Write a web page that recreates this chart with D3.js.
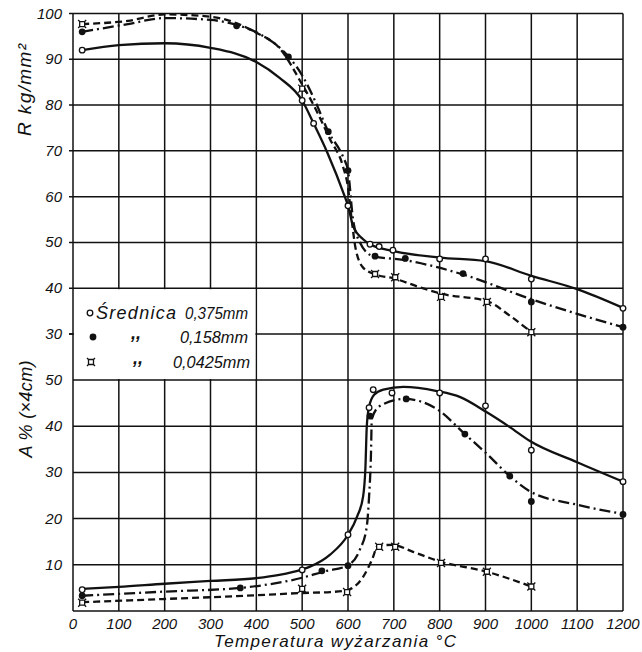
<!DOCTYPE html>
<html>
  <head>
    <meta charset="utf-8">
    <title>Wyzarzanie</title>
    <script src="https://cdn.jsdelivr.net/npm/d3@7"></script>
	<style>
		body { margin:0; background:#fff; }
		text { font-family:"Liberation Sans", Arial, sans-serif; font-style:italic; fill:#111; }
	</style>
  </head>
  <body>
	<svg></svg>
    <script>
	// tick labels
	var xTicks = [0,100,200,300,400,500,600,700,800,900,1000,1100,1200];
	var rTicks = [100,90,80,70,60,50,40,30];
	var aTicks = [50,40,30,20,10];

	// R kg/mm2 - drawn curves and measured points
	var rCurve375 = [[20,92],[100,93.1],[200,93.5],[300,92.5],[400,89.4],[450,86],[500,81],[525,76],[555,69.6],[593,60],[600,58],[611,53.6],[633,50.7],[648,49.6],[700,48.1],[800,46.7],[900,45.9],[1000,42.7],[1100,39.8],[1200,35.7]];
	var rMarks375 = [[20,92],[500,81],[525,76],[600,58],[648,49.6],[668,49.1],[698,48.3],[800,46.4],[900,46.4],[1000,42],[1200,35.6]];
	var rCurve158 = [[20,96],[120,97.7],[200,99],[300,98.6],[357,97.5],[408,95.5],[470,90.6],[500,86.5],[525,81.6],[557,74.2],[590,68.5],[600,65.7],[611,55],[626,50],[655,47],[720,46.2],[851,43],[1000,37.6],[1100,34.4],[1200,31.5]];
	var rMarks158 = [[20,96],[357,97.3],[470,90.5],[557,74.2],[600,65.7],[659,47],[725,46.5],[851,43.2],[1000,37],[1200,31.5]];
	var rCurve0425 = [[20,97.7],[120,98.4],[200,99.8],[300,99.3],[400,95.8],[450,92.5],[500,84.5],[525,80],[561,72.5],[589,66.6],[600,62],[608,55],[616,49],[633,44.5],[660,43],[698,42.2],[757,40.2],[808,38.7],[903,37.2],[953,34],[1000,30.4]];
	var rMarks0425 = [[20,97.7],[500,83.6],[659,43.1],[703,42.4],[803,38.1],[903,37],[1000,30.4]];

	// A % (x4cm)
	var aCurve375 = [[20,4.8],[100,5.2],[200,5.9],[300,6.5],[400,7.1],[450,7.8],[500,9],[517,9.6],[561,12.2],[600,16.5],[620,20.5],[633,24.8],[638,31],[641,40],[646,44.2],[657,46.8],[677,47.9],[721,48.5],[794,47.6],[845,46.3],[903,43],[953,39.8],[997,36.8],[1100,32.2],[1200,28]];
	var aMarks375 = [[20,4.6],[500,8.9],[600,16.5],[646,44],[655,47.9],[696,47.2],[800,47.2],[900,44.4],[1000,34.8],[1200,28]];
	var aCurve158 = [[20,3.3],[200,4.2],[365,5],[500,7.2],[550,8.6],[598,9.8],[626,13.3],[641,18.3],[646,24.8],[650,33.5],[652,41.6],[670,44.4],[724,45.9],[794,43.7],[855,38.3],[903,34],[953,29.2],[997,25.9],[1100,23],[1200,21]];
	var aMarks158 = [[20,3.3],[365,5],[543,8.7],[600,9.8],[648,42.2],[727,45.9],[855,38.3],[953,29.2],[1000,23.7],[1200,20.9]];
	var aCurve0425 = [[20,1.9],[200,2.6],[400,3.4],[500,3.9],[561,4.1],[598,4.5],[633,7.4],[652,11],[666,14.2],[698,14.3],[742,12.8],[801,10.7],[903,8.5],[1000,5.3]];
	var aMarks0425 = [[20,1.8],[500,4.8],[598,4.1],[668,13.9],[703,13.9],[803,10.4],[903,8.5],[1000,5.3]];

	var width = 642, height = 652;
	var svg = d3.select("svg").attr("width", width).attr("height", height);

	var x = d3.scaleLinear().domain([0,1200]).range([73,623]);
	var yR = d3.scaleLinear().domain([100,30]).range([13.5,334]);
	var yA = d3.scaleLinear().domain([50,0]).range([380,611]);

	// grid
	var grid = svg.append("g").attr("stroke","#111").attr("stroke-width",1.5);
	xTicks.forEach(function(t){
		grid.append("line").attr("x1",x(t)).attr("x2",x(t)).attr("y1",yR(100)).attr("y2",yA(0));
	});
	rTicks.forEach(function(t){
		grid.append("line").attr("x1",x(0)-4).attr("x2",x(1200)).attr("y1",yR(t)).attr("y2",yR(t));
	});
	aTicks.concat([0]).forEach(function(t){
		grid.append("line").attr("x1",x(0)).attr("x2",x(1200)).attr("y1",yA(t)).attr("y2",yA(t));
	});

	// legend box over grid
	svg.append("rect").attr("x",x(0)+1).attr("y",yR(40)+1)
		.attr("width",x(400)-x(0)-2).attr("height",yA(50)-yR(40)-2).attr("fill","#fff");
	svg.append("line").attr("x1",x(0)-4).attr("x2",x(0)).attr("y1",yR(30)).attr("y2",yR(30))
		.attr("stroke","#111").attr("stroke-width",1.5);

	// tick labels
	svg.selectAll(".rl").data(rTicks).enter().append("text")
		.attr("x",62).attr("y",function(d){return yR(d)+5;})
		.attr("text-anchor","end").attr("font-size",15).text(function(d){return d;});
	svg.selectAll(".al").data(aTicks).enter().append("text")
		.attr("x",62).attr("y",function(d){return yA(d)+5;})
		.attr("text-anchor","end").attr("font-size",15).text(function(d){return d;});
	svg.selectAll(".xl").data(xTicks).enter().append("text")
		.attr("x",function(d){return x(d);}).attr("y",629)
		.attr("text-anchor","middle").attr("font-size",15).text(function(d){return d;});

	// axis titles
	svg.append("text").attr("transform","translate(335,647)").attr("text-anchor","middle")
		.attr("font-size",17).attr("textLength",242).attr("lengthAdjust","spacing")
		.text("Temperatura wyżarzania °C");
	svg.append("text").attr("transform","translate(31,90) rotate(-90)").attr("text-anchor","middle")
		.attr("font-size",19).attr("textLength",92).attr("lengthAdjust","spacing").text("R  kg/mm²");
	svg.append("text").attr("transform","translate(32,409) rotate(-90)").attr("text-anchor","middle")
		.attr("font-size",18).attr("textLength",97).attr("lengthAdjust","spacing").text("A % (×4cm)");

	// curves
	var line = function(ys){
		return d3.line().x(function(d){return x(d[0]);}).y(function(d){return ys(d[1]);}).curve(d3.curveMonotoneX);
	};
	function addCurve(data, ys, dash) {
		svg.append("path").attr("d", line(ys)(data)).attr("fill","none")
			.attr("stroke","#111").attr("stroke-width",2.3)
			.attr("stroke-dasharray", dash);
	}
	addCurve(rCurve375, yR, null);
	addCurve(rCurve158, yR, "11,4,2,4");
	addCurve(rCurve0425, yR, "7,4");
	addCurve(aCurve375, yA, null);
	addCurve(aCurve158, yA, "11,4,2,4");
	addCurve(aCurve0425, yA, "7,4");

	// markers
	var sq = "M-2.5,-2.5h5v5h-5z M-4,-4l1.5,1.5 M4,-4l-1.5,1.5 M-4,4l1.5,-1.5 M4,4l-1.5,-1.5";
	function addMarks(data, ys, kind) {
		var g = svg.append("g");
		data.forEach(function(d){
			var px = x(d[0]), py = ys(d[1]);
			if (kind == "o") {
				g.append("circle").attr("cx",px).attr("cy",py).attr("r",2.8)
					.attr("fill","#fff").attr("stroke","#111").attr("stroke-width",1.3);
			} else if (kind == "dot") {
				g.append("circle").attr("cx",px).attr("cy",py).attr("r",3.4).attr("fill","#111");
			} else {
				g.append("path").attr("d",sq).attr("transform","translate("+px+","+py+")")
					.attr("fill","#fff").attr("stroke","#111").attr("stroke-width",1.3);
			}
		});
	}
	addMarks(rMarks375, yR, "o");
	addMarks(rMarks158, yR, "dot");
	addMarks(rMarks0425, yR, "sq");
	addMarks(aMarks375, yA, "o");
	addMarks(aMarks158, yA, "dot");
	addMarks(aMarks0425, yA, "sq");

	// legend
	svg.append("circle").attr("cx",90).attr("cy",313).attr("r",2.8)
		.attr("fill","#fff").attr("stroke","#111").attr("stroke-width",1.3);
	svg.append("text").attr("x",96).attr("y",319).attr("font-size",18)
		.attr("textLength",80).attr("lengthAdjust","spacing").text("Średnica");
	svg.append("text").attr("x",248).attr("y",319).attr("font-size",17).attr("text-anchor","end")
		.attr("textLength",63).attr("lengthAdjust","spacingAndGlyphs").text("0,375mm");
	svg.append("circle").attr("cx",93).attr("cy",337).attr("r",3.4).attr("fill","#111");
	svg.append("text").attr("x",131).attr("y",339).attr("font-size",18).attr("font-weight","bold").text(",,");
	svg.append("text").attr("x",248).attr("y",343).attr("font-size",17).attr("text-anchor","end")
		.attr("textLength",68).attr("lengthAdjust","spacingAndGlyphs").text("0,158mm");
	svg.append("path").attr("d",sq).attr("transform","translate(91,362)")
		.attr("fill","#fff").attr("stroke","#111").attr("stroke-width",1.3);
	svg.append("text").attr("x",133).attr("y",364).attr("font-size",18).attr("font-weight","bold").text(",,");
	svg.append("text").attr("x",250).attr("y",368).attr("font-size",17).attr("text-anchor","end")
		.attr("textLength",77).attr("lengthAdjust","spacingAndGlyphs").text("0,0425mm");
    </script>
  </body>
</html>
